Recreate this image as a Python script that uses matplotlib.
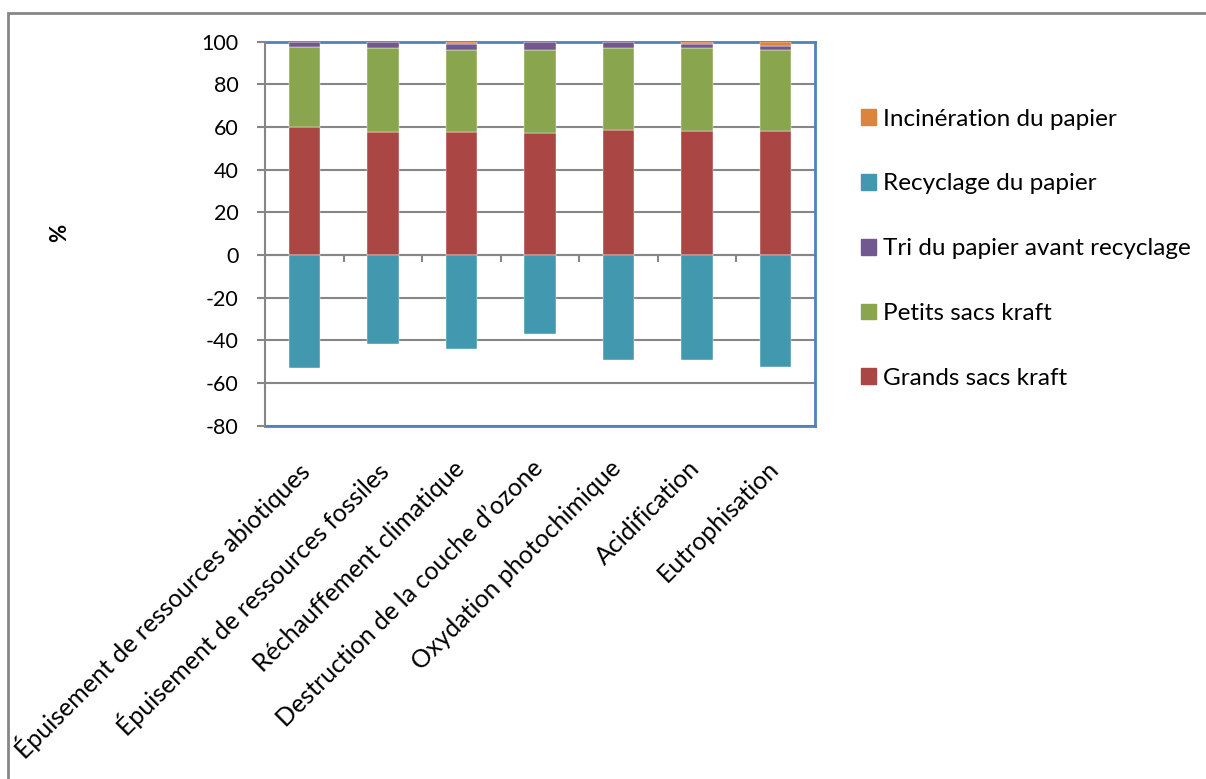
import numpy as np
import matplotlib
matplotlib.use("Agg")
import matplotlib.pyplot as plt
import matplotlib.transforms as mtransforms
from matplotlib.patches import Patch, Rectangle

plt.rcParams["font.family"] = ["Lato", "DejaVu Sans"]
plt.rcParams["axes.unicode_minus"] = False

# Data (%)
categories = [
    "Épuisement de ressources abiotiques",
    "Épuisement de ressources fossiles",
    "Réchauffement climatique",
    "Destruction de la couche d’ozone",
    "Oxydation photochimique",
    "Acidification",
    "Eutrophisation",
]
grands_sacs = [60.0, 57.7, 57.5, 57.2, 58.4, 58.0, 58.0]
petits_sacs = [37.5, 39.1, 38.5, 38.8, 38.4, 39.1, 38.2]
tri_papier = [2.2, 2.9, 2.8, 3.7, 2.8, 1.7, 1.8]
incineration = [0.1, 0.1, 0.9, 0.1, 0.1, 1.0, 1.8]
recyclage = [-53.0, -41.8, -43.8, -37.0, -49.3, -49.3, -52.3]

c_red, c_green, c_purple, c_aqua, c_orange = "#AA4643", "#89A54E", "#71588F", "#4198AF", "#DB843D"
grey, blue = "#868686", "#4F81BD"

fig = plt.figure(figsize=(12.06, 7.79), dpi=100)
ax = fig.add_axes([0.2197, 0.4534, 0.4561, 0.4933])

x = np.arange(len(categories))
w = 0.4
g = np.array(grands_sacs); p = np.array(petits_sacs); t = np.array(tri_papier)
kw = dict(width=w, edgecolor="white", linewidth=0.3, zorder=3)
ax.bar(x, g, color=c_red, **kw)
ax.bar(x, p, bottom=g, color=c_green, **kw)
ax.bar(x, t, bottom=g + p, color=c_purple, **kw)
ax.bar(x, incineration, bottom=g + p + t, color=c_orange, **kw)
ax.bar(x, recyclage, color=c_aqua, **kw)

ax.set_xlim(-0.5, len(categories) - 0.5)
ax.set_ylim(-80, 100)
ax.set_yticks(np.arange(-80, 101, 20))
ax.grid(axis="y", color=grey, linewidth=1.5, zorder=1)
ax.set_axisbelow(True)

# zero axis line with tick marks between categories
ax.axhline(0, color=grey, linewidth=1.5, zorder=2)
ax.vlines(np.arange(0.5, len(categories) - 0.5), -3.5, 0, color=grey, linewidth=1.5, zorder=2)

for s in ["top", "right", "bottom"]:
    ax.spines[s].set_color(blue)
    ax.spines[s].set_linewidth(2)
ax.spines["left"].set_color(grey)
ax.spines["left"].set_linewidth(1.5)
ax.spines["left"].set_zorder(4)

ax.tick_params(axis="y", length=6, width=1.5, color=grey, pad=13, labelsize=15.5)
ax.set_xticks(x)
ax.set_xticklabels(categories)
ax.tick_params(axis="x", length=0, pad=22, labelsize=18)
shift = mtransforms.ScaledTranslation(-9 / 100, 0, fig.dpi_scale_trans)
for lab in ax.get_xticklabels():
    lab.set_rotation(45)
    lab.set_ha("right")
    lab.set_va("top")
    lab.set_rotation_mode("anchor")
    lab.set_transform(lab.get_transform() + shift)

fig.text(60 / 1206, 1 - 233 / 779, "%", rotation=90, ha="center", va="center",
         fontsize=16, fontweight="bold")

handles = [Patch(color=c_orange), Patch(color=c_aqua), Patch(color=c_purple),
           Patch(color=c_green), Patch(color=c_red)]
labels = ["Incinération du papier", "Recyclage du papier", "Tri du papier avant recyclage",
          "Petits sacs kraft", "Grands sacs kraft"]
fig.legend(handles, labels, loc="upper left", bbox_to_anchor=(851 / 1206, 1 - 99 / 779),
           frameon=False, fontsize=17.5, handlelength=0.62, handleheight=0.62,
           handletextpad=0.3, labelspacing=1.80, borderaxespad=0)

# outer chart border
fig.patches.append(Rectangle((8 / 1206, -0.02), 1.05, 1 - 13 / 779 + 0.02,
                             transform=fig.transFigure, fill=False,
                             edgecolor=grey, linewidth=2))

fig.savefig("out.png", dpi=100, facecolor="white")
